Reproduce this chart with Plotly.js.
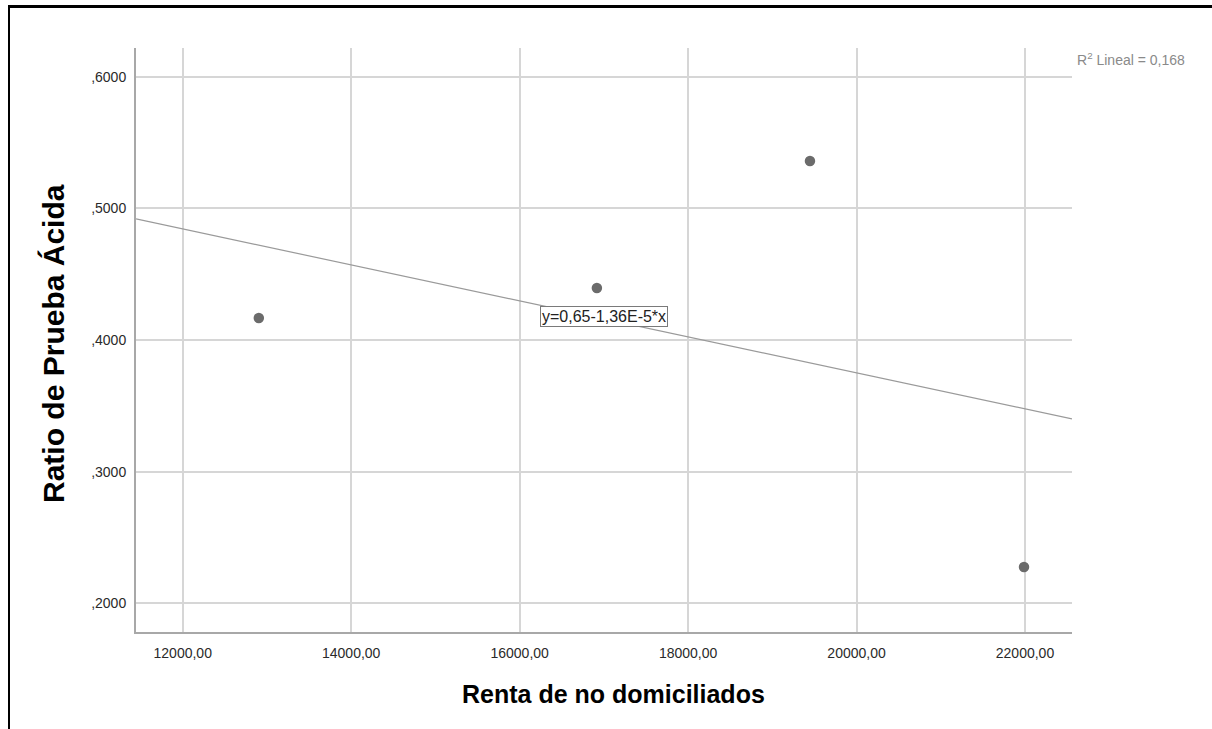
<!DOCTYPE html>
<html>
<head>
<meta charset="utf-8">
<script src="https://cdn.plot.ly/plotly-3.0.1.min.js"></script>
<style>
  html, body { margin: 0; padding: 0; background: #fff; }
  #wrap { position: relative; width: 1212px; height: 729px; overflow: hidden; }
  #chart { position: absolute; left: 0; top: 0; width: 1212px; height: 729px; }
  #frame { position: absolute; left: 8px; top: 5px; width: 1300px; height: 800px;
           border-left: 2px solid #000; border-top: 3px solid #000; pointer-events: none; }
</style>
</head>
<body>
<div id="wrap">
  <div id="chart"></div>
  <div id="frame"></div>
</div>
<script>
// Data
const rentaNoDomiciliados = [12903, 16917, 19447, 21988];
const ratioPruebaAcida    = [0.4167, 0.4395, 0.5360, 0.2276];

const xTickVals = [12000, 14000, 16000, 18000, 20000, 22000];
const xTickText = ['12000,00', '14000,00', '16000,00', '18000,00', '20000,00', '22000,00'];
const yTickVals = [0.2, 0.3, 0.4, 0.5, 0.6];
const yTickText = [',2000', ',3000', ',4000', ',5000', ',6000'];

const xRange = [11445, 22558];
const yRange = [0.1782, 0.6218];

const xTitle = 'Renta de no domiciliados';
const yTitle = 'Ratio de Prueba Ácida';
const equationText = 'y=0,65-1,36E-5*x';
const r2Text = 'R<sup>2</sup> Lineal = 0,168';

// Least-squares fit from the data
const n = rentaNoDomiciliados.length;
const mx = rentaNoDomiciliados.reduce((a, b) => a + b, 0) / n;
const my = ratioPruebaAcida.reduce((a, b) => a + b, 0) / n;
let sxy = 0, sxx = 0;
for (let i = 0; i < n; i++) {
  sxy += (rentaNoDomiciliados[i] - mx) * (ratioPruebaAcida[i] - my);
  sxx += (rentaNoDomiciliados[i] - mx) ** 2;
}
const slope = sxy / sxx;
const intercept = my - slope * mx;
const fitX = xRange.slice();
const fitY = fitX.map(x => intercept + slope * x);

const font = 'Arial, "Liberation Sans", Helvetica, sans-serif';

const traces = [
  {
    x: fitX, y: fitY, type: 'scatter', mode: 'lines',
    line: { color: '#9a9a9a', width: 1.2 }, hoverinfo: 'skip', showlegend: false
  },
  {
    x: rentaNoDomiciliados, y: ratioPruebaAcida, type: 'scatter', mode: 'markers',
    marker: { color: '#6b6b6b', size: 10.5 }, showlegend: false
  }
];

const layout = {
  width: 1212, height: 729,
  margin: { l: 136, r: 140, t: 48, b: 97, pad: 0 },
  paper_bgcolor: '#ffffff', plot_bgcolor: '#ffffff',
  font: { family: font, color: '#333333', size: 14 },
  showlegend: false,
  xaxis: {
    range: xRange, tickvals: xTickVals, ticktext: xTickText,
    showgrid: true, gridcolor: '#d6d6d6', gridwidth: 2,
    showline: true, linecolor: '#a8a8a8', linewidth: 2,
    zeroline: false, ticks: 'outside', ticklen: 7, tickcolor: 'rgba(0,0,0,0)',
    tickfont: { family: font, size: 14, color: '#2a2a2a' }
  },
  yaxis: {
    range: yRange, tickvals: yTickVals, ticktext: yTickText,
    showgrid: true, gridcolor: '#d6d6d6', gridwidth: 2,
    showline: true, linecolor: '#a8a8a8', linewidth: 2,
    zeroline: false, ticks: 'outside', ticklen: 5, tickcolor: 'rgba(0,0,0,0)',
    tickfont: { family: font, size: 14, color: '#2a2a2a' }
  },
  annotations: [
    {
      x: 0.5101, y: -0.1062, xref: 'paper', yref: 'paper', xanchor: 'center', yanchor: 'middle',
      text: '<b>' + xTitle + '</b>', showarrow: false,
      font: { family: font, size: 25, color: '#000000' }
    },
    {
      x: -0.0876, y: 0.4932, xref: 'paper', yref: 'paper', xanchor: 'center', yanchor: 'middle',
      text: '<b>' + yTitle + '</b>', showarrow: false, textangle: -90,
      font: { family: font, size: 30, color: '#000000' }
    },
    {
      x: 17006, y: 0.4182, xref: 'x', yref: 'y', text: equationText,
      showarrow: false, bgcolor: '#ffffff', bordercolor: '#7a7a7a', borderwidth: 1,
      borderpad: 1, font: { family: font, size: 16, color: '#222222' }
    },
    {
      x: 1.0, y: 0.981, xref: 'paper', yref: 'paper', xanchor: 'left', yanchor: 'middle',
      xshift: 3, text: r2Text, showarrow: false,
      font: { family: font, size: 14, color: '#8a8a8a' }
    }
  ]
};

Plotly.newPlot('chart', traces, layout, { displayModeBar: false, staticPlot: true });
</script>
</body>
</html>
